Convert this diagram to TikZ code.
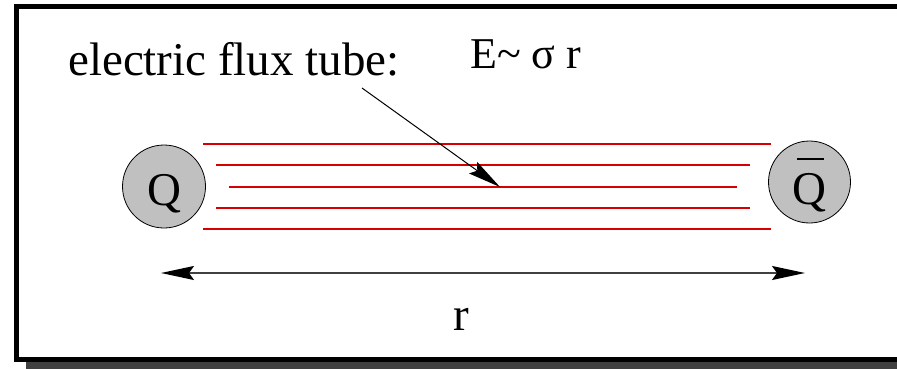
\documentclass[tikz,border=0pt]{standalone}
\usepackage{fontspec}
\setmainfont{Liberation Serif}
\usetikzlibrary{arrows.meta}
\definecolor{fluxred}{RGB}{215,0,0}
\definecolor{chargegray}{RGB}{192,192,192}
\definecolor{shadowgray}{RGB}{64,64,64}
\tikzset{headtip/.tip={Stealth[length=33pt,width=14pt,inset=5pt,color=black]}}
\begin{document}
\begin{tikzpicture}[x=1pt,y=-1pt,
  flux/.style={draw=fluxred, line width=1.5pt},
  charge/.style={circle, draw=black, line width=0.8pt, fill=chargegray, inner sep=0pt},
  lbl/.style={inner sep=0pt, font=\fontsize{47}{50}\selectfont}]
\useasboundingbox (0,0) rectangle (897,369);
% frame with shadow
\fill[shadowgray] (26,14) rectangle (940,369);
\draw[fill=white, line width=5pt] (16.5,6.5) rectangle (930,359.5);
% charges
\node[charge, minimum size=83pt] (q) at (164,186.5) {};
\node[charge, minimum size=82pt] (qb) at (809.5,182) {};
\node[lbl, anchor=base] (qtext) at (q.center |- 0,205) {Q};
\node[lbl, anchor=base] (qbtext) at (qb.center |- 0,204) {\rlap{\hspace{0.1em}\rule[0.94em]{0.56em}{0.03em}}Q};
% flux lines
\draw[flux] (203,144) -- (771,144);
\draw[flux] (216,165) -- (750,165);
\draw[flux] (229,187) -- (737,187);
\draw[flux] (216,208) -- (750,208);
\draw[flux] (203,229) -- (771,229);
% labels
\node[lbl, anchor=base west] (tube) at (68,76) {electric flux tube:};
\node[lbl, anchor=base west, font=\fontsize{44}{48}\selectfont] (field) at (470,69) {E\textasciitilde{} σ r};
\node[lbl, anchor=base] (rlabel) at (461,330) {r};
% pointer arrow
\coordinate (ptrstart) at (362,88);
\coordinate (ptrend) at (500,187);
\draw[line width=1pt, -headtip] (ptrstart) -- (ptrend);
% distance arrow
\coordinate (dl) at (161,273);
\coordinate (dr) at (805,273);
\draw[line width=1.5pt, shadowgray, headtip-headtip] (dl) -- (dr);
\end{tikzpicture}
\end{document}
